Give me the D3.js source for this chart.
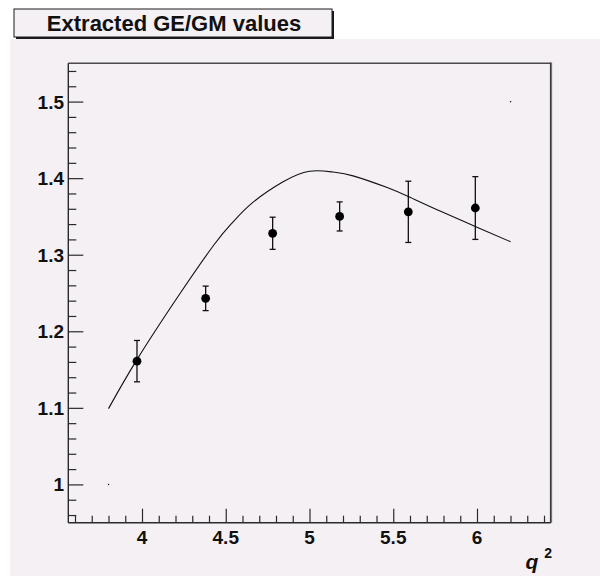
<!DOCTYPE html>
<html>
<head>
<meta charset="utf-8">
<script src="https://cdn.jsdelivr.net/npm/d3@7"></script>
<style>
  html, body { margin: 0; padding: 0; background: #ffffff; }
  svg { display: block; }
</style>
</head>
<body>
<svg id="chart" width="600" height="576"></svg>
<script>
// Measured GE/GM ratio with errors
const q2Values   = [3.97, 4.38, 4.78, 5.18, 5.59, 5.99];
const ratioValues = [1.161, 1.243, 1.328, 1.350, 1.356, 1.361];
const ratioErrors = [0.027, 0.016, 0.021, 0.019, 0.040, 0.041];

// Model curve
const curveQ2    = [3.80, 3.97, 4.22, 4.43, 4.54, 4.66, 4.84, 5.00, 5.14, 5.26, 5.46, 5.60, 5.79, 6.01, 6.20];
const curveRatio = [1.099, 1.163, 1.247, 1.313, 1.342, 1.368, 1.395, 1.409, 1.408, 1.403, 1.388, 1.375, 1.356, 1.335, 1.317];

// Corner points that fix the histogram range
const rangeQ2    = [3.8, 6.2];
const rangeRatio = [1.0, 1.5];

// Axis ticks
const xMajorTicks = [4, 4.5, 5, 5.5, 6];
const xTickLabels = ["4", "4.5", "5", "5.5", "6"];
const yMajorTicks = [1, 1.1, 1.2, 1.3, 1.4, 1.5];
const yTickLabels = ["1", "1.1", "1.2", "1.3", "1.4", "1.5"];

const titleText = "Extracted GE/GM values";

const svg = d3.select("#chart");
const bg = "#f4f0f4";

// canvas pad
svg.append("rect").attr("x", 10).attr("y", 39).attr("width", 590).attr("height", 537).attr("fill", bg);

const frame = { left: 68.3, right: 550.7, top: 63.3, bottom: 522.7 };

const x = d3.scaleLinear().domain([3.56, 6.44]).range([frame.left, frame.right]);
const y = d3.scaleLinear().domain([0.95, 1.55]).range([frame.bottom, frame.top]);

// frame: top and right sides
svg.append("line").attr("x1", frame.left).attr("x2", frame.right)
  .attr("y1", frame.top).attr("y2", frame.top)
  .attr("stroke", "#4a4a4a").attr("stroke-width", 1.5);
svg.append("line").attr("x1", frame.right + 1).attr("x2", frame.right + 1)
  .attr("y1", frame.top - 0.7).attr("y2", frame.bottom)
  .attr("stroke", "#9a9a9a").attr("stroke-width", 1);
svg.append("line").attr("x1", frame.right).attr("x2", frame.right)
  .attr("y1", frame.top - 0.7).attr("y2", frame.bottom)
  .attr("stroke", "#3a3a3a").attr("stroke-width", 1.6);

const fontFam = "'Liberation Sans', Arial, Helvetica, sans-serif";

// x axis (ticks pointing into the frame)
const xMinor = d3.range(36, 65).map(d => d / 10).filter(v => v >= 3.56 && v <= 6.44);
const xAxis = d3.axisTop(x).tickValues(xMinor).tickSize(7).tickFormat("");
const gx = svg.append("g").attr("transform", `translate(0,${frame.bottom})`).call(xAxis);
gx.selectAll(".tick line").attr("stroke", "#2a2a2a").attr("stroke-width", 1.2)
  .attr("y2", d => xMajorTicks.some(m => Math.abs(m - d) < 1e-9) ? -14 : -7);
gx.select(".domain").attr("stroke", "#2a2a2a").attr("stroke-width", 1.4)
  .attr("d", `M${frame.left},0H${frame.right}`);

svg.append("g").selectAll("text").data(xMajorTicks).join("text")
  .attr("x", d => x(d)).attr("y", 544)
  .attr("text-anchor", "middle")
  .attr("font-family", fontFam).attr("font-weight", "bold").attr("font-size", 19)
  .attr("fill", "#111")
  .text((d, i) => xTickLabels[i]);

// y axis
const yMinor = d3.range(48, 78).map(d => d / 50).filter(v => v >= 0.95 && v <= 1.55);
const yAxis = d3.axisRight(y).tickValues(yMinor).tickSize(7).tickFormat("");
const gy = svg.append("g").attr("transform", `translate(${frame.left},0)`).call(yAxis);
gy.selectAll(".tick line").attr("stroke", "#2a2a2a").attr("stroke-width", 1.2)
  .attr("x2", d => yMajorTicks.some(m => Math.abs(m - d) < 1e-9) ? 15 : 8);
gy.select(".domain").attr("stroke", "#2a2a2a").attr("stroke-width", 1.4)
  .attr("d", `M0,${frame.top}V${frame.bottom}`);

svg.append("g").selectAll("text").data(yMajorTicks).join("text")
  .attr("x", 64).attr("y", d => y(d) + 7)
  .attr("text-anchor", "end")
  .attr("font-family", fontFam).attr("font-weight", "bold").attr("font-size", 19)
  .attr("fill", "#111")
  .text((d, i) => yTickLabels[i]);

// x axis title q^2
const xt = svg.append("text").attr("x", 552).attr("y", 569)
  .attr("text-anchor", "end")
  .attr("font-family", fontFam).attr("font-weight", "bold").attr("font-size", 21)
  .attr("fill", "#111");
xt.append("tspan").attr("font-style", "italic").text("q");
xt.append("tspan").attr("dx", 6).attr("dy", -11).attr("font-size", 14).text("2");

// range corner dots
svg.append("g").selectAll("rect").data(rangeQ2).join("rect")
  .attr("x", (d, i) => x(d) - 0.6).attr("y", (d, i) => y(rangeRatio[i]) - 0.6)
  .attr("width", 1.3).attr("height", 1.3).attr("fill", "#222");

// model curve
const line = d3.line()
  .x((d, i) => x(curveQ2[i]))
  .y(d => y(d))
  .curve(d3.curveNatural);
svg.append("path").datum(curveRatio)
  .attr("d", line)
  .attr("fill", "none").attr("stroke", "#111").attr("stroke-width", 1.1);

// error bars
const eg = svg.append("g").attr("stroke", "#111").attr("stroke-width", 1.3);
q2Values.forEach((q, i) => {
  const cx = x(q);
  const yTop = y(ratioValues[i] + ratioErrors[i]);
  const yBot = y(ratioValues[i] - ratioErrors[i]);
  eg.append("line").attr("x1", cx).attr("x2", cx).attr("y1", yTop).attr("y2", yBot);
  eg.append("line").attr("x1", cx - 3).attr("x2", cx + 3).attr("y1", yTop).attr("y2", yTop);
  eg.append("line").attr("x1", cx - 3).attr("x2", cx + 3).attr("y1", yBot).attr("y2", yBot);
});

// markers
svg.append("g").selectAll("circle").data(ratioValues).join("circle")
  .attr("cx", (d, i) => x(q2Values[i])).attr("cy", d => y(d))
  .attr("r", 4.4).attr("fill", "#000");

// title box with shadow
const tb = { x: 14, y: 9, w: 318, h: 28 };
svg.append("rect").attr("x", tb.x + 2).attr("y", tb.y + 2).attr("width", tb.w).attr("height", tb.h)
  .attr("fill", "#1a1a1a");
svg.append("rect").attr("x", tb.x).attr("y", tb.y).attr("width", tb.w).attr("height", tb.h)
  .attr("fill", bg).attr("stroke", "#1a1a1a").attr("stroke-width", 1);
svg.append("text").attr("x", tb.x + tb.w / 2 + 1).attr("y", tb.y + 21.5)
  .attr("text-anchor", "middle")
  .attr("font-family", fontFam).attr("font-weight", "bold").attr("font-size", 22)
  .attr("fill", "#111")
  .text(titleText);
</script>
</body>
</html>
